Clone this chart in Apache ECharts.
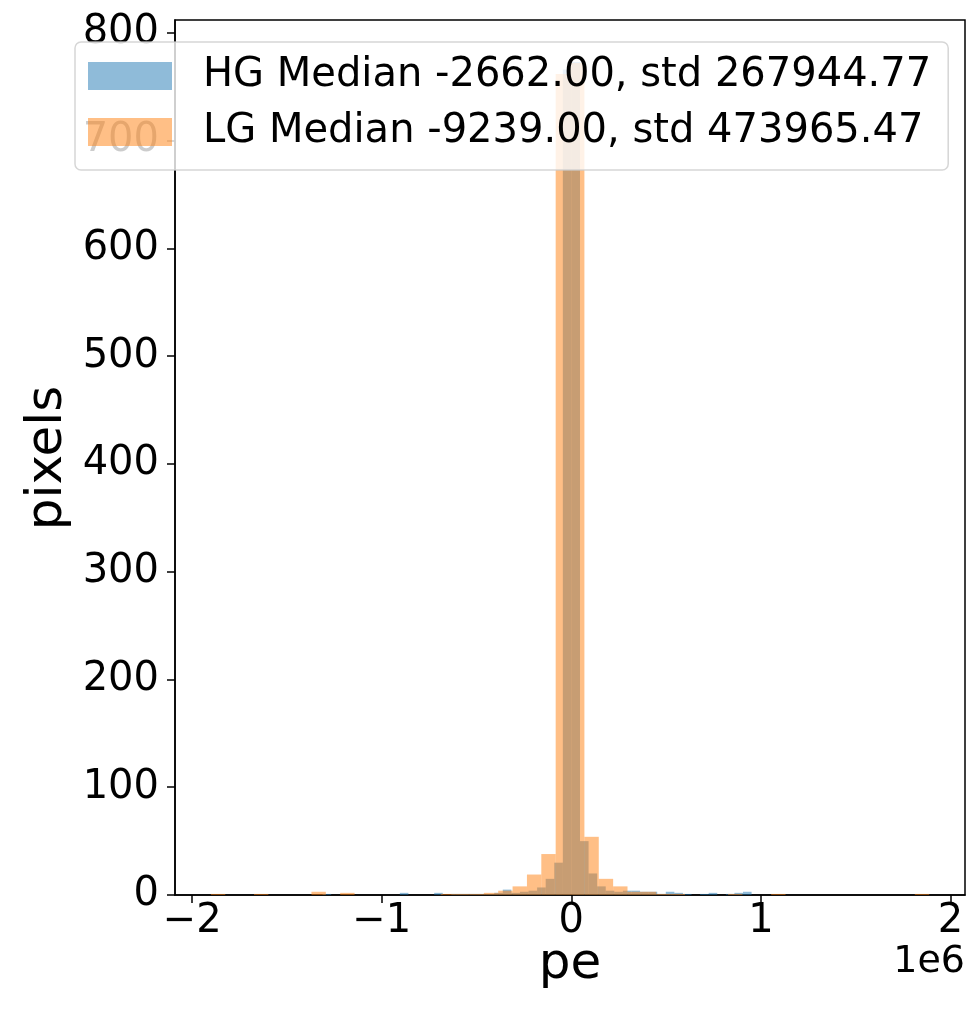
<!DOCTYPE html>
<html>
<head>
<meta charset="utf-8">
<script src="https://cdn.jsdelivr.net/npm/echarts@6/dist/echarts.min.js"></script>
<style>
html,body{margin:0;padding:0;background:#fff;}
#chart{width:976px;height:1014px;}
</style>
</head>
<body>
<div id="chart"></div>
<script>
// ---- data ----
const hgName = 'HG Median -2662.00, std 267944.77';
const lgName = 'LG Median -9239.00, std 473965.47';
const hgRange = [-1312100, 951000];   // histogram range, 50 bins
const lgRange = [-1901600, 1888000];  // histogram range, 50 bins
const hgCounts = [1,0,0,0,0,0,0,0,0,2, 0,0,0,2,0,1,1,1,1,1, 2,5,2,3,4,7,15,30,766,773, 50,20,8,4,3,4,4,3,3,1, 3,2,1,0,1,2,0,1,2,3];
const lgCounts = [1,0,0,1,0,0,0,3,0,2, 0,0,0,0,0,0,1,1,1,2, 4,8,19,38,762,772,54,15,8,3, 3,1,1,0,0,0,1,0,0,1, 0,0,0,0,0,0,0,0,0,1];
const xTicks = [-2000000, -1000000, 0, 1000000, 2000000];
const yTicks = [0, 100, 200, 300, 400, 500, 600, 700, 800];
const xLimits = [-2091000, 2077000];
const yLimits = [0, 812];

function bins(range, counts) {
  const w = (range[1] - range[0]) / counts.length;
  return counts.map((c, i) => [range[0] + i * w, range[0] + (i + 1) * w, c]);
}

const FONT = 'DejaVu Sans';
const chart = echarts.init(document.getElementById('chart'), null, {renderer: 'canvas'});

function renderBar(params, api) {
  const p0 = api.coord([api.value(0), api.value(2)]);
  const p1 = api.coord([api.value(1), 0]);
  return {
    type: 'rect',
    shape: {x: p0[0], y: p0[1], width: p1[0] - p0[0], height: p1[1] - p0[1]},
    style: api.style()
  };
}

const option = {
  animation: false,
  backgroundColor: '#ffffff',
  grid: {left: 175, right: 11, top: 20, bottom: 119, show: true, borderColor: '#000', borderWidth: 1.5, backgroundColor: 'transparent'},
  xAxis: {
    type: 'value', min: xLimits[0], max: xLimits[1],
    splitLine: {show: false},
    axisLine: {show: true, onZero: false, lineStyle: {color: '#000', width: 1.5}},
    axisTick: {show: true, length: 8, lineStyle: {color: '#000', width: 1.5}, customValues: xTicks},
    axisLabel: {
      customValues: xTicks, color: '#000', fontFamily: FONT, fontSize: 40, margin: 7,
      formatter: v => { const n = Math.round(v / 1e6); return n < 0 ? '\u2212' + Math.abs(n) : String(n); }
    }
  },
  yAxis: {
    type: 'value', min: yLimits[0], max: yLimits[1],
    splitLine: {show: false},
    axisLine: {show: true, onZero: false, lineStyle: {color: '#000', width: 1.5}},
    axisTick: {show: true, length: 8, lineStyle: {color: '#000', width: 1.5}, customValues: yTicks},
    axisLabel: {customValues: yTicks, color: '#000', fontFamily: FONT, fontSize: 40, margin: 16}
  },
  legend: {
    orient: 'vertical', left: 75, top: 42,
    data: [hgName, lgName],
    icon: 'rect', itemWidth: 84, itemHeight: 28, itemGap: 16,
    padding: [14, 17, 18, 13],
    backgroundColor: 'rgba(255,255,255,0.8)', borderColor: 'rgba(204,204,204,0.8)', borderWidth: 1.5, borderRadius: 6,
    textStyle: {fontFamily: FONT, fontSize: 40, color: '#000', lineHeight: 40, padding: [0, 0, 0, 26]}
  },
  series: [
    {name: hgName, type: 'custom', renderItem: renderBar, data: bins(hgRange, hgCounts), encode: {x: [0, 1], y: 2},
     itemStyle: {color: 'rgba(31,119,180,0.5)'}, clip: true},
    {name: lgName, type: 'custom', renderItem: renderBar, data: bins(lgRange, lgCounts), encode: {x: [0, 1], y: 2},
     itemStyle: {color: 'rgba(255,127,14,0.5)'}, clip: true}
  ],
  graphic: [
    {type: 'text', x: 48, y: 458, rotation: Math.PI / 2, style: {text: 'pixels', fontFamily: FONT, fontSize: 50, fill: '#000', align: 'center', verticalAlign: 'middle'}},
    {type: 'text', x: 570, y: 965, style: {text: 'pe', fontFamily: FONT, fontSize: 50, fill: '#000', align: 'center', verticalAlign: 'middle'}},
    {type: 'text', x: 965, y: 962, style: {text: '1e6', fontFamily: FONT, fontSize: 38, fill: '#000', align: 'right', verticalAlign: 'middle'}}
  ]
};
chart.setOption(option);
</script>
</body>
</html>
